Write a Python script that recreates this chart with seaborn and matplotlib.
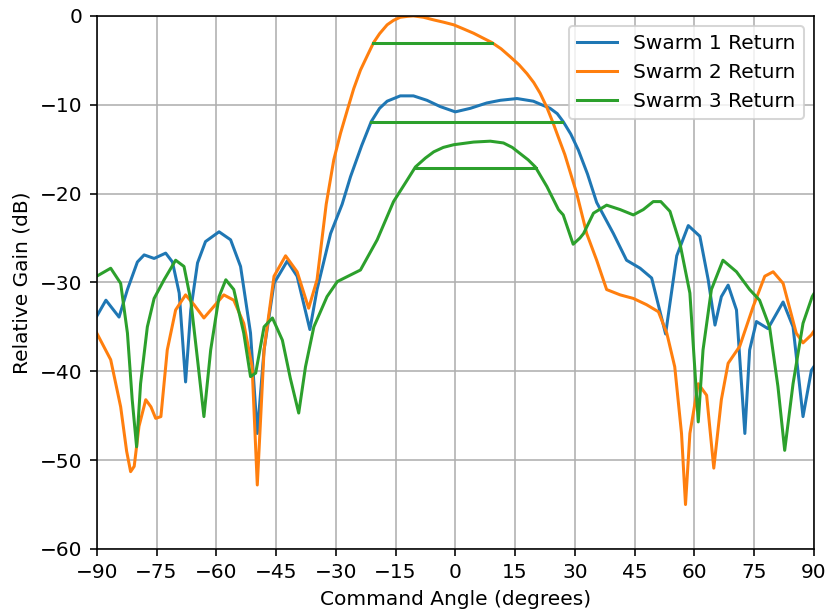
import numpy as np
import pandas as pd
import matplotlib
matplotlib.use("Agg")
import matplotlib.pyplot as plt
import seaborn as sns

# ---- data ----
s1_x = [-90, -87.7, -84.4, -82.3, -79.8, -78.1, -75.6, -72.7, -71.0, -69.3, -67.7, -66.4, -64.7,
        -62.7, -59.3, -56.4, -53.9, -51.4, -49.7, -48.0, -45.5, -42.2, -39.7, -36.5, -34.7, -31.3,
        -28.4, -26.3, -23.5, -21.1, -19.0, -17.1, -13.8, -10.5, -7.1, -3.8, 0, 3.8, 7.9, 11.3, 15.5,
        19.6, 23.8, 25.6, 27.1, 29.0, 30.9, 33.2, 35.5, 39.7, 43.0, 46.4, 49.3, 52.8, 55.6, 58.5,
        61.4, 63.5, 65.2, 66.8, 68.5, 70.6, 72.7, 73.9, 75.6, 78.5, 82.3, 84.8, 87.3, 89.4, 90]
s1_y = [-33.8, -32.0, -33.9, -30.8, -27.7, -26.9, -27.3, -26.7, -27.7, -31.2, -41.2, -33.1, -27.8,
        -25.4, -24.3, -25.2, -28.2, -35.7, -47.0, -37.6, -30.1, -27.6, -29.3, -35.3, -30.8, -24.5,
        -21.2, -18.1, -14.6, -11.9, -10.4, -9.6, -9.0, -9.0, -9.5, -10.2, -10.8, -10.4, -9.8, -9.5, -9.3,
        -9.6, -10.4, -11.0, -11.9, -13.3, -15.1, -17.8, -21.0, -24.5, -27.5, -28.4, -29.5, -35.8, -27.0,
        -23.6, -24.8, -29.7, -34.8, -31.6, -30.3, -33.1, -47.0, -37.6, -34.4, -35.2, -32.2, -35.0,
        -45.1, -39.9, -39.5]

s2_x = [-90, -86.5, -84.0, -82.5, -81.5, -80.6, -79.4, -77.7, -76.4, -75.2, -73.9, -72.3, -70.2,
        -67.7, -65.6, -63.1, -60.6, -58.1, -55.6, -53.1, -51.0, -49.7, -48.0, -45.5, -42.6, -39.7,
        -36.8, -34.7, -32.4, -30.5, -28.8, -27.1, -25.5, -23.8, -22.0, -20.5, -19.0, -17.1, -15.5,
        -13.8, -12.0, -10.5, -8.0, -5.4, -3.0, -0.4, 2.0, 4.6, 7.0, 9.2, 11.5, 13.8, 16.0, 18.0, 19.7,
        21.3, 23.0, 24.6, 26.0, 27.5, 29.0, 30.5, 33.0, 35.5, 38.0, 41.4, 44.7, 48.0, 51.0, 53.1, 55.1,
        56.8, 57.8, 58.9, 61.0, 63.1, 64.9, 66.8, 68.5, 71.4, 74.8, 77.7, 79.8, 82.3, 85.6, 87.3,
        89.4, 90]
s2_y = [-35.7, -38.7, -44.0, -49.0, -51.3, -50.7, -46.2, -43.2, -44.0, -45.3, -45.1, -37.6, -33.1,
        -31.4, -32.5, -34.0, -32.7, -31.4, -32.0, -34.6, -39.5, -52.8, -37.6, -29.3, -27.0, -28.8,
        -32.9, -29.7, -21.2, -16.2, -13.2, -10.6, -8.2, -6.1, -4.4, -3.0, -2.0, -1.0, -0.5,
        -0.15, -0.05, 0.0, -0.15, -0.45, -0.7, -1.0, -1.45, -1.95, -2.5, -3.0, -3.7, -4.6, -5.5, -6.5, -7.5,
        -8.7, -10.3, -12.1, -13.8, -15.6, -17.8, -20.0, -24.5, -27.5, -30.8, -31.4, -31.8, -32.5, -33.3,
        -35.7, -39.5, -47.0, -55.0, -47.0, -41.4, -42.7, -50.9, -43.2, -39.1, -37.2, -32.7, -29.3, -28.8,
        -30.1, -35.7, -36.8, -35.9, -35.5]

s3_x = [-90, -86.5, -84.0, -82.3, -81.1, -80.0, -79.0, -77.3, -75.6, -73.1, -70.2, -68.1, -66.4,
        -64.7, -63.1, -61.4, -59.3, -57.6, -55.6, -53.1, -51.4, -50.1, -48.0, -45.9, -43.4, -41.4,
        -39.3, -37.6, -35.5, -32.2, -29.6, -23.8, -19.6, -17.5, -15.5, -12.1, -10.0, -7.5, -5.4, -3.0,
        -0.4, 4.6, 8.8, 12.1, 14.3, 16.3, 18.3, 20.1, 23.0, 25.9, 27.1, 29.6, 31.3, 32.2, 34.7, 38.0,
        41.4, 44.7, 47.2, 49.7, 51.6, 53.9, 56.4, 58.9, 61.0, 62.2, 64.3, 67.2, 70.6, 73.9, 76.4, 78.9,
        81.0, 82.7, 84.8, 87.3, 89.6, 90]
s3_y = [-29.3, -28.4, -30.1, -35.7, -43.2, -48.5, -41.4, -35.0, -31.8, -29.7, -27.5, -28.2, -32.0,
        -38.7, -45.1, -37.6, -31.6, -29.7, -30.8, -35.7, -40.6, -40.2, -35.0, -34.0, -36.5, -40.8,
        -44.7, -39.5, -35.0, -31.6, -29.9, -28.6, -25.2, -23.0, -20.9, -18.5, -17.0, -16.0, -15.3, -14.8,
        -14.5, -14.2, -14.1, -14.3, -14.8, -15.5, -16.2, -17.0, -19.2, -21.8, -22.4, -25.7, -25.0, -24.5,
        -22.2, -21.3, -21.8, -22.4, -21.8, -20.9, -20.9, -22.0, -25.6, -31.2, -45.7, -37.6, -30.8, -27.5,
        -28.8, -30.8, -32.0, -35.0, -41.7, -48.9, -41.4, -34.6, -31.6, -31.3]

series_names = ["Swarm 1 Return", "Swarm 2 Return", "Swarm 3 Return"]

# beamwidth marker lines (level, start, end)
bw_level = [-3.0, -11.9, -17.1]
bw_start = [-20.6, -21.1, -10.0]
bw_end = [9.2, 26.7, 20.3]

# ---- build table ----
frames = []
for name, xs, ys in zip(series_names, [s1_x, s2_x, s3_x], [s1_y, s2_y, s3_y]):
    frames.append(pd.DataFrame({"Angle": xs, "Gain": ys, "Series": name}))
df = pd.concat(frames, ignore_index=True)

colors = ["#1f77b4", "#ff7f0e", "#2ca02c"]

plt.rcParams["font.family"] = ["DejaVu Sans"]
DPI = 145
fig = plt.figure(figsize=(827 / DPI, 612 / DPI), dpi=DPI)
ax = fig.add_axes([0.117, 0.103, 0.867, 0.871])

sns.lineplot(data=df, x="Angle", y="Gain", hue="Series", palette=colors,
             estimator=None, sort=False, linewidth=1.5, ax=ax)

for lev, a, b in zip(bw_level, bw_start, bw_end):
    ax.plot([a, b], [lev, lev], color=colors[2], linewidth=1.5)

ax.set_xlim(-90, 90)
ax.set_ylim(-60, 0)
ax.set_xticks(np.arange(-90, 91, 15))
ax.set_yticks(np.arange(-60, 1, 10))
ax.grid(True, color="#b0b0b0", linewidth=0.8)
ax.set_axisbelow(True)
ax.set_xlabel("Command Angle (degrees)", fontsize=10)
ax.set_ylabel("Relative Gain (dB)", fontsize=10)
ax.tick_params(labelsize=10)
for sp in ax.spines.values():
    sp.set_color("black")
    sp.set_linewidth(0.8)

leg = ax.legend(loc="upper right", fontsize=10, title=None)
for h in leg.get_lines():
    h.set_linewidth(1.5)

fig.savefig("out.png", dpi=DPI)
